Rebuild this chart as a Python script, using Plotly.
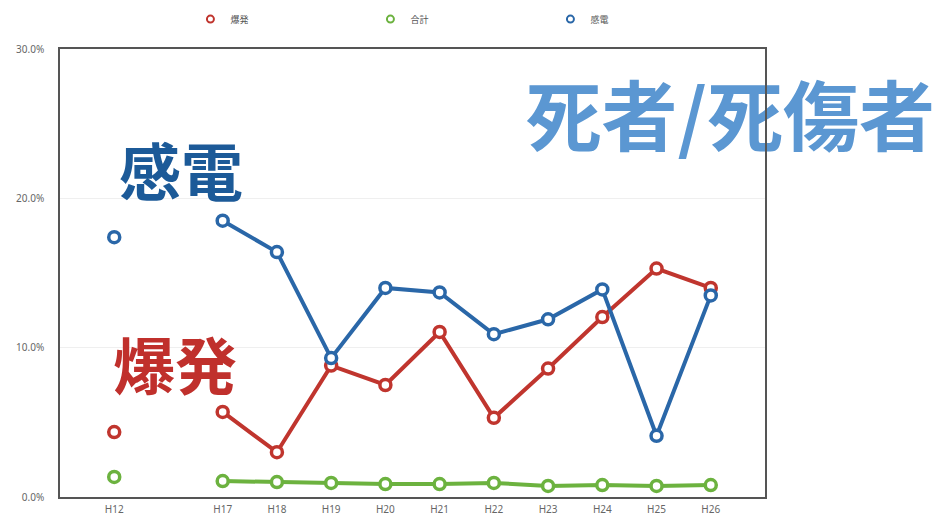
import plotly.graph_objects as go

# Fiscal years (Heisei); the blank slot keeps the gap between H12 and H17
years = ["H12", "", "H17", "H18", "H19", "H20", "H21", "H22", "H23", "H24", "H25", "H26"]

# Fatality ratio (deaths / casualties), in percent
explosion = [4.35, None, 5.7, 3.0, 8.8, 7.5, 11.05, 5.3, 8.6, 12.05, 15.3, 14.0]
total = [1.34, None, 1.07, 1.0, 0.94, 0.87, 0.87, 0.94, 0.74, 0.8, 0.74, 0.8]
electric = [17.4, None, 18.5, 16.4, 9.3, 14.0, 13.7, 10.9, 11.9, 13.9, 4.1, 13.5]

series_names = ["爆発", "合計", "感電"]
series_values = [explosion, total, electric]
series_colors = ["#c0352e", "#6cb23f", "#2a67a8"]

y_ticks = [0, 10, 20, 30]
y_tick_text = [f"{v:.1f}%" for v in y_ticks]

x_pos = list(range(len(years)))
jp_font = "Noto Sans CJK JP"
tick_font = dict(family="Noto Sans", size=10, color="#666666")

fig = go.Figure()

for name, vals, color in zip(series_names, series_values, series_colors):
    fig.add_trace(go.Scatter(
        x=x_pos, y=vals, mode="lines+markers", name=name,
        line=dict(color=color, width=4),
        marker=dict(symbol="circle", size=11, color="white",
                    line=dict(color=color, width=3.5)),
        connectgaps=False, showlegend=False, hoverinfo="skip",
    ))

# legend entries: small open circles only
for name, color in zip(series_names, series_colors):
    fig.add_trace(go.Scatter(
        x=[None], y=[None], mode="markers", name=name,
        marker=dict(symbol="circle", size=7, color="white",
                    line=dict(color=color, width=2)),
        showlegend=True,
    ))

# big title crossing the right border of the frame (drawn under the axis line)
fig.add_trace(go.Scatter(
    x=[11.36], y=[24.85], mode="text", text=["死者/死傷者"],
    textposition="middle center",
    textfont=dict(family=jp_font, size=76, color="#5b97d2", weight="bold"),
    cliponaxis=False, showlegend=False, hoverinfo="skip",
))

fig.add_annotation(
    x=0.1716, y=0.732, xref="paper", yref="paper", text="感電",
    showarrow=False, xanchor="center", yanchor="middle",
    font=dict(family=jp_font, size=62, color="#1c5a98", weight="bold"),
)
fig.add_annotation(
    x=0.163, y=0.299, xref="paper", yref="paper", text="爆発",
    showarrow=False, xanchor="center", yanchor="middle",
    font=dict(family=jp_font, size=62, color="#c0302c", weight="bold"),
)

fig.update_layout(
    width=940, height=516,
    margin=dict(l=60, r=175, t=49, b=19, autoexpand=False),
    paper_bgcolor="white", plot_bgcolor="white",
    legend=dict(
        orientation="h", x=0.185, y=0.963, xref="paper", yref="container",
        xanchor="left", yanchor="middle",
        entrywidth=135, entrywidthmode="pixels", itemwidth=30,
        font=dict(family=jp_font, size=9, color="#555555"),
        bgcolor="rgba(0,0,0,0)",
    ),
    xaxis=dict(
        range=[-1, 12], tickvals=x_pos, ticktext=years, automargin=False,
        showgrid=False, zeroline=False,
        showline=True, linecolor="#555555", linewidth=1.5, mirror=True,
        tickfont=tick_font, ticks="", ticklabelstandoff=2,
    ),
    yaxis=dict(
        range=[0, 30], tickvals=y_ticks, ticktext=y_tick_text, automargin=False,
        showgrid=True, gridcolor="#efefef", gridwidth=1, zeroline=False,
        showline=True, linecolor="#555555", linewidth=1.5, mirror=True,
        tickfont=tick_font, ticks="", ticklabelstandoff=12,
    ),
)

fig.write_html("out.html")
